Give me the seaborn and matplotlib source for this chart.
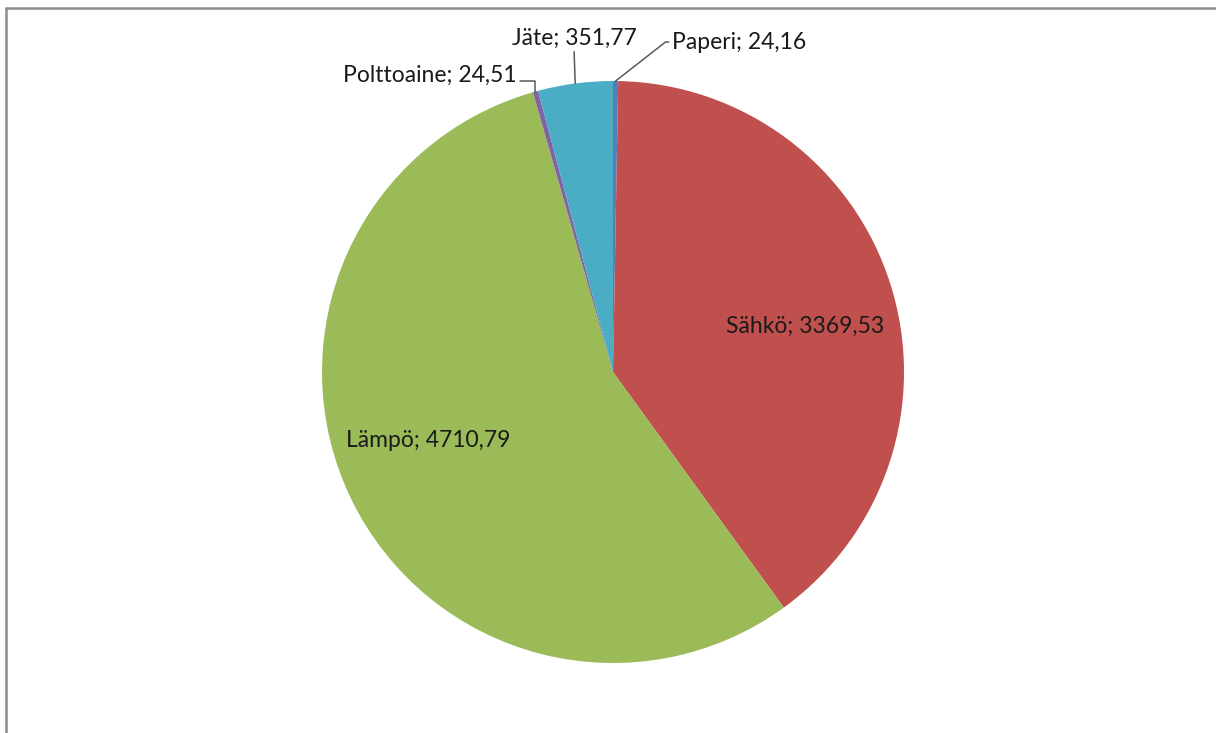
import matplotlib
matplotlib.use("Agg")
import matplotlib.pyplot as plt
import seaborn as sns
from matplotlib.lines import Line2D
import numpy as np

# data (order as in the chart, clockwise from 12 o'clock)
categories = ["Paperi", "Sähkö", "Lämpö", "Polttoaine", "Jäte"]
values = [24.16, 3369.53, 4710.79, 24.51, 351.77]
value_labels = ["24,16", "3369,53", "4710,79", "24,51", "351,77"]
colors = ["#4F81BD", "#C0504D", "#9BBB59", "#8064A2", "#4BACC6"]

sns.set_style("white")
plt.rcParams["font.family"] = ["Lato", "DejaVu Sans"]

W, H = 1216, 733
fig = plt.figure(figsize=(W / 100, H / 100), dpi=100)
cx, cy, r = 613, 372, 291
ax = fig.add_axes([(cx - r) / W, (H - cy - r) / H, 2 * r / W, 2 * r / H])

wedges, _ = ax.pie(values, colors=colors, startangle=90, counterclock=False,
                   radius=1, wedgeprops=dict(linewidth=0))
ax.set_xlim(-1, 1)
ax.set_ylim(-1, 1)
ax.axis("off")

labels = [f"{c}; {v}" for c, v in zip(categories, value_labels)]
txt_color = "#1a1a1a"
fs = 16.5


def mid_point(w):
    ang = np.deg2rad((w.theta1 + w.theta2) / 2)
    return np.cos(ang), np.sin(ang)


# inside labels
ax.text(0.660, 0.158, labels[1], ha="center", va="center", fontsize=fs, color=txt_color)
ax.text(-0.636, -0.234, labels[2], ha="center", va="center", fontsize=fs, color=txt_color)

line_kw = dict(arrowstyle="-", color="#595959", lw=1.1, shrinkA=0, shrinkB=0)

# Paperi
ax.annotate(labels[0], xy=mid_point(wedges[0]), xytext=(0.203, 1.134),
            ha="left", va="center", fontsize=fs, color=txt_color,
            arrowprops=dict(**line_kw, relpos=(0, 0.5),
                            connectionstyle="angle,angleA=180,angleB=38,rad=0"),
            annotation_clip=False)
# Polttoaine
ax.annotate(labels[3], xy=mid_point(wedges[3]), xytext=(-0.332, 1.021),
            ha="right", va="center", fontsize=fs, color=txt_color,
            arrowprops=dict(**line_kw, relpos=(1, 0.2),
                            connectionstyle="angle,angleA=0,angleB=90,rad=0"),
            annotation_clip=False)
# Jäte
ax.annotate(labels[4], xy=mid_point(wedges[4]), xytext=(-0.134, 1.148),
            ha="center", va="center", fontsize=fs, color=txt_color,
            arrowprops=dict(**line_kw, relpos=(0.5, 0)),
            annotation_clip=False)

# chart area frame (top and left edges only visible)
fig.add_artist(Line2D([6 / W, 1], [1 - 8 / H, 1 - 8 / H], color="#8c8c8c", lw=1.8))
fig.add_artist(Line2D([6 / W, 6 / W], [0, 1 - 8 / H], color="#8c8c8c", lw=1.8))

fig.savefig("out.png", dpi=100, facecolor="white")
